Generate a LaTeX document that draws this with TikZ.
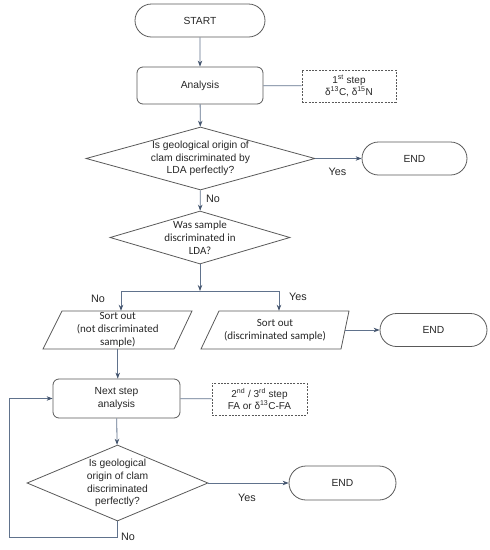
\documentclass[tikz,border=0pt]{standalone}
\usepackage{fontspec}
\setmainfont{Liberation Sans}
\newfontfamily\calfont{Carlito}
\usetikzlibrary{shapes.geometric,shapes.misc,arrows.meta}
\definecolor{conn}{HTML}{60728C}
\definecolor{tipc}{HTML}{44556E}
\definecolor{edgec}{HTML}{595959}
\definecolor{txt}{HTML}{262626}
\tikzset{
  every node/.style={font=\fontsize{10.3}{12.8}\selectfont, text=txt, inner sep=0pt},
  term/.style={draw=edgec, line width=0.8pt, rounded rectangle, minimum width=#1, minimum height=33pt},
  proc/.style={draw=edgec, line width=0.8pt, rounded corners=6pt, minimum width=#1, minimum height=38pt, align=center},
  notebox/.style={draw=edgec, line width=0.7pt, dash pattern=on 2pt off 1.3pt, minimum width=#1, minimum height=32pt, align=center, font=\fontsize{10}{12.2}\selectfont},
  dec/.style={draw=edgec, line width=0.8pt, diamond},
  dtext/.style={align=center},
  ctext/.style={align=center, font=\calfont\fontsize{11}{12.8}\selectfont},
  para/.style={draw=edgec, line width=0.8pt},
  lbl/.style={font=\fontsize{10.8}{12}\selectfont},
  link/.style={draw=conn, line width=0.8pt},
  arr/.style={draw=conn, line width=0.8pt, -{Stealth[length=6pt,width=4.5pt,color=tipc]}}
}
\begin{document}
\begin{tikzpicture}[x=1pt,y=-1pt]
\useasboundingbox (0,0) rectangle (490,550);
% top part
\node[term=130pt] (start) at (200,20.5) {START};
\node[proc=126pt, minimum height=37pt] (ana) at (200,85.5) {Analysis};
\node[notebox=94pt] (n1) at (349,86) {1\textsuperscript{st} step\\δ\textsuperscript{13}C, δ\textsuperscript{15}N};
\node[dec, minimum width=229pt, minimum height=63pt] (d1) at (200.5,158.5) {};
\node[dtext] (d1t) at (200.5,158.5) {Is geological origin of\\clam discriminated by\\LDA perfectly?};
\node[term=105pt] (e1) at (414.5,158.5) {END};
\node[lbl] (y1) at (337.5,172) {Yes};
\node[lbl] (no1) at (213,199) {No};
\node[dec, minimum width=180pt, minimum height=53pt] (d2) at (200,237.5) {};
\node[ctext] (d2t) at (200,237.5) {Was sample\\discriminated in\\LDA?};
% split
\coordinate (split) at (200,291);
\coordinate (sl) at (121,291);
\coordinate (sr) at (279,291);
\node[lbl] (no2) at (98,299) {No};
\node[lbl] (y2) at (298,297) {Yes};
% parallelograms
\node[ctext, minimum width=130.5pt, minimum height=38pt] (p1) at (117.75,330) {Sort out\\(not discriminated\\sample)};
\draw[para] (62,311) -- (192,311) -- (174,349) -- (43,349) -- cycle;
\node[ctext, minimum width=140pt, minimum height=38pt] (p2) at (275,330) {Sort out\\(discriminated sample)};
\draw[para] (219,311) -- (349,311) -- (341,349) -- (201,349) -- cycle;
\node[term=107pt] (e2) at (433.5,330) {END};
% bottom part
\node[proc=127pt, minimum height=39pt] (nb) at (116.5,398.5) {Next step\\analysis};
\node[notebox=95pt] (n2) at (259.5,399) {2\textsuperscript{nd} / 3\textsuperscript{rd} step\\FA or δ\textsuperscript{13}C-FA};
\node[dec, minimum width=181pt, minimum height=76pt] (d3) at (117.5,483) {};
\node[dtext] (d3t) at (117.5,483) {Is geological\\origin of clam\\discriminated\\perfectly?};
\node[term=107pt, minimum height=34pt] (e3) at (342.5,483) {END};
\node[lbl] (y3) at (247,498) {Yes};
\coordinate (lb) at (117.5,537);
\coordinate (ll) at (9,537);
\coordinate (lt) at (9,398.5);
\node[lbl, anchor=west] (no3) at (121,537) {No};
% connectors
\draw[arr] (start) -- (ana);
\draw[link] (ana) -- (n1);
\draw[arr] (ana) -- (d1);
\draw[arr] (d1) -- (e1);
\draw[arr] (d1) -- (d2);
\draw[arr] (d2.south) -- (split);
\draw[link] (sl) -- (sr);
\draw[arr] (sl) -- (sl |- p1.north);
\draw[arr] (sr) -- (sr |- p2.north);
\draw[arr] (p2.east) -- (e2.west);
\draw[arr] (p1.south) -- (p1.south |- nb.north);
\draw[link] (nb) -- (n2);
\draw[arr] (nb) -- (d3);
\draw[arr] (d3) -- (e3);
\draw[link] (d3.south) -- (lb) -- (ll) -- (lt);
\draw[arr] (lt) -- (nb.west);
\end{tikzpicture}
\end{document}
